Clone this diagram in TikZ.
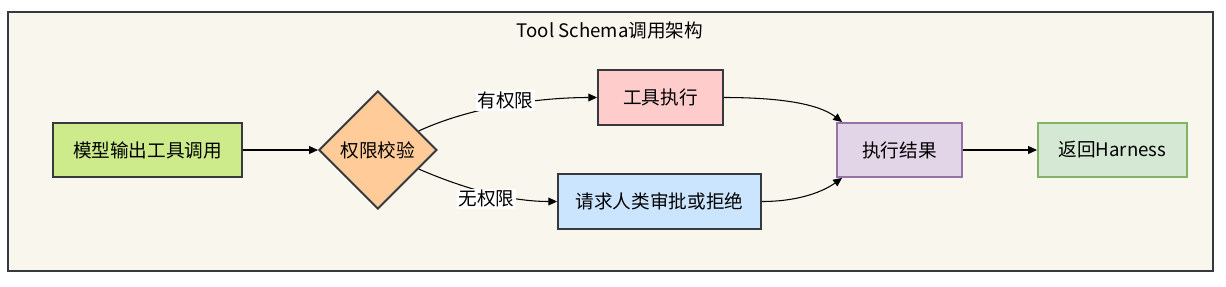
\documentclass[tikz,border=0pt]{standalone}
\usepackage{fontspec}
\setmainfont{Noto Sans CJK SC}
\usepackage{xcolor}
\usetikzlibrary{shapes.geometric, arrows.meta, positioning, calc}

\definecolor{framebg}{HTML}{F9F7ED}
\definecolor{edgegray}{HTML}{36393D}
\definecolor{genfill}{HTML}{CDEB8B}
\definecolor{chkfill}{HTML}{FFCC99}
\definecolor{execfill}{HTML}{FFCCCC}
\definecolor{reqfill}{HTML}{CCE5FF}
\definecolor{resfill}{HTML}{E1D5E7}
\definecolor{resline}{HTML}{9673A6}
\definecolor{retfill}{HTML}{D5E8D4}
\definecolor{retline}{HTML}{82B366}

\begin{document}
\begin{tikzpicture}[
    x=0.02cm, y=-0.02cm,
    font=\fontsize{10.6}{12}\selectfont,
    frame/.style={rectangle, draw=edgegray, line width=1pt, fill=framebg, minimum width=24.1cm, minimum height=5.18cm},
    box/.style={rectangle, draw=edgegray, line width=1.1pt, minimum height=1.08cm, inner sep=2pt},
    check/.style={diamond, draw=edgegray, line width=1.1pt, fill=chkfill, minimum size=2.36cm, inner sep=0pt},
    tag/.style={fill=white, inner sep=1pt},
    arrow/.style={-{Triangle[length=5pt, width=4.5pt]}, line width=0.6pt, black}
]
\useasboundingbox (0,0) rectangle (1226,287);
\node[frame] (frame) at (610.5,141.5) {};
\node (title) at (610,30) {Tool Schema调用架构};

\node[box, fill=genfill, minimum width=3.78cm] (gen) at (147.5,150) {模型输出工具调用};
\node[check, right=1.5cm of gen] (chk) {权限校验};
\node[box, fill=execfill, minimum width=2.5cm, minimum height=1.1cm] (exec) at (660.5,97.5) {工具执行};
\node[box, fill=reqfill, minimum width=4.06cm, minimum height=1.1cm] (req) at (659.5,201.5) {请求人类审批或拒绝};
\node[box, fill=resfill, draw=resline, minimum width=2.5cm] (res) at (899.5,150) {执行结果};
\node[box, fill=retfill, draw=retline, minimum width=2.98cm, right=1.48cm of res] (ret) {返回Harness};

\draw[arrow] (gen) -- (chk);
\draw[arrow] (chk.25) .. controls +(52,-24) and +(-58,0) .. (exec.west)
    node[tag, pos=0.5, yshift=0.1cm] {有权限};
\draw[arrow] (chk.-25) .. controls +(44,19) and +(-48,0) .. (req.west)
    node[tag, pos=0.5, yshift=-0.13cm] {无权限};
\draw[arrow] (exec.east) .. controls +(57,0) and +(-23,-18) .. ($(res.north west)+(0.12cm,0)$);
\draw[arrow] (req.east) .. controls +(38,0) and +(-18,13) .. ($(res.south west)+(0.12cm,0)$);
\draw[arrow] (res) -- (ret);
\end{tikzpicture}
\end{document}
